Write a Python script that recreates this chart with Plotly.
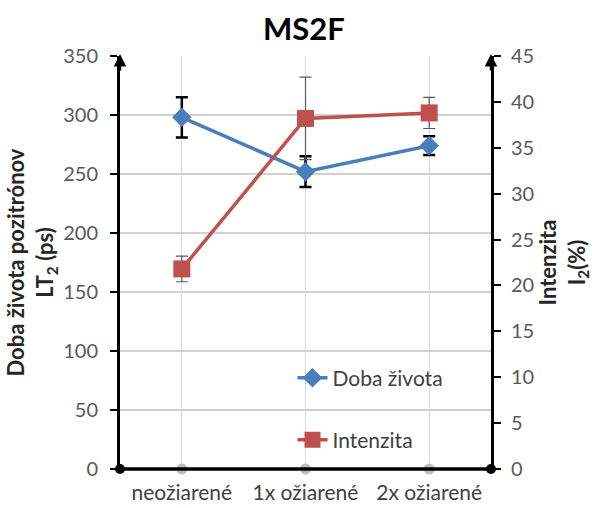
import plotly.graph_objects as go

categories = ["neožiarené", "1x ožiarené", "2x ožiarené"]
lifetime = [298, 252, 274]
lifetime_err = [17, 13, 8]
intensity = [21.8, 38.2, 38.8]
intensity_err = [1.4, 4.5, 1.7]
baseline = [0, 0, 0]

BLUE = "#4A7EBB"
RED = "#C0504D"
FONT = "Lato, 'Open Sans', sans-serif"

fig = go.Figure()

fig.add_trace(go.Scatter(
    x=categories, y=baseline, mode="markers",
    marker=dict(color="#BFBFBF", size=11, symbol="circle"),
    cliponaxis=False, showlegend=False, hoverinfo="skip"))

fig.add_trace(go.Scatter(
    x=categories, y=lifetime, name="Doba života", mode="lines+markers",
    line=dict(color=BLUE, width=3.5),
    marker=dict(color=BLUE, size=15, symbol="diamond"),
    error_y=dict(type="data", array=lifetime_err, color="black", thickness=2.5, width=6),
    legend="legend"))

fig.add_trace(go.Scatter(
    x=categories, y=intensity, name="Intenzita", mode="lines+markers",
    line=dict(color=RED, width=3.5),
    marker=dict(color=RED, size=17, symbol="square"),
    error_y=dict(type="data", array=intensity_err, color="#595959", thickness=1.2, width=6),
    yaxis="y2", legend="legend2"))

fig.update_layout(
    width=596, height=508,
    margin=dict(l=120, r=105, t=56, b=39),
    paper_bgcolor="white", plot_bgcolor="white",
    font=dict(family=FONT, color="#404040", size=19),
    title=dict(text="<b>MS2F</b>", x=0.51, xanchor="center", y=0.943, yanchor="middle",
               font=dict(family=FONT, size=31, color="black")),
    xaxis=dict(type="category", range=[-0.5, 2.5], showgrid=True, gridcolor="#D9D9D9",
               gridwidth=1.2, showline=False, zeroline=False, ticks="",
               ticklabelstandoff=9, automargin=False,
               tickfont=dict(size=21, color="#404040")),
    yaxis=dict(range=[0, 350], dtick=50, showgrid=True, gridcolor="#D0D0D0", gridwidth=1.5,
               showline=True, linecolor="black", linewidth=3, ticks="outside",
               ticklen=7, tickwidth=2, tickcolor="black", zeroline=False,
               ticklabelstandoff=8, automargin=False,
               tickfont=dict(size=20, color="#595959"),
               title=dict(text="<b>Doba života pozitrónov<br>LT<sub>2</sub> (ps)</b>",
                          font=dict(size=22, color="#262626"), standoff=4)),
    yaxis2=dict(range=[0, 45], dtick=5, overlaying="y", side="right", showgrid=False,
                showline=True, linecolor="black", linewidth=3, ticks="outside",
                ticklen=7, tickwidth=2, tickcolor="black", zeroline=False,
                ticklabelstandoff=6, automargin=False,
                tickfont=dict(size=20, color="#595959"),
                title=dict(text="<b>Intenzita<br>I<sub>2</sub>(%)</b>",
                           font=dict(size=22, color="#262626"), standoff=4)),
    legend=dict(x=0.465, y=0.22, xanchor="left", yanchor="middle", bgcolor="rgba(0,0,0,0)",
                font=dict(size=21, color="#404040")),
    legend2=dict(x=0.465, y=0.07, xanchor="left", yanchor="middle", bgcolor="rgba(0,0,0,0)",
                 font=dict(size=21, color="#404040")),
    shapes=[
        dict(type="line", xref="paper", yref="paper", x0=0, x1=1, y0=0, y1=0,
             line=dict(color="black", width=3.5)),
        dict(type="circle", xref="paper", yref="paper", xsizemode="pixel", ysizemode="pixel",
             xanchor=0, yanchor=0, x0=-5, x1=5, y0=-5, y1=5, fillcolor="black",
             line=dict(color="black", width=0)),
        dict(type="circle", xref="paper", yref="paper", xsizemode="pixel", ysizemode="pixel",
             xanchor=1, yanchor=0, x0=-5, x1=5, y0=-5, y1=5, fillcolor="black",
             line=dict(color="black", width=0)),
    ],
    annotations=[
        dict(xref="paper", yref="paper", x=0, y=1.005, ax=0, ay=18, axref="pixel", ayref="pixel",
             showarrow=True, arrowhead=2, arrowsize=1, arrowwidth=2.5, arrowcolor="black", text=""),
        dict(xref="paper", yref="paper", x=1, y=1.005, ax=0, ay=18, axref="pixel", ayref="pixel",
             showarrow=True, arrowhead=2, arrowsize=1, arrowwidth=2.5, arrowcolor="black", text=""),
    ],
)

fig.write_html("out.html")
